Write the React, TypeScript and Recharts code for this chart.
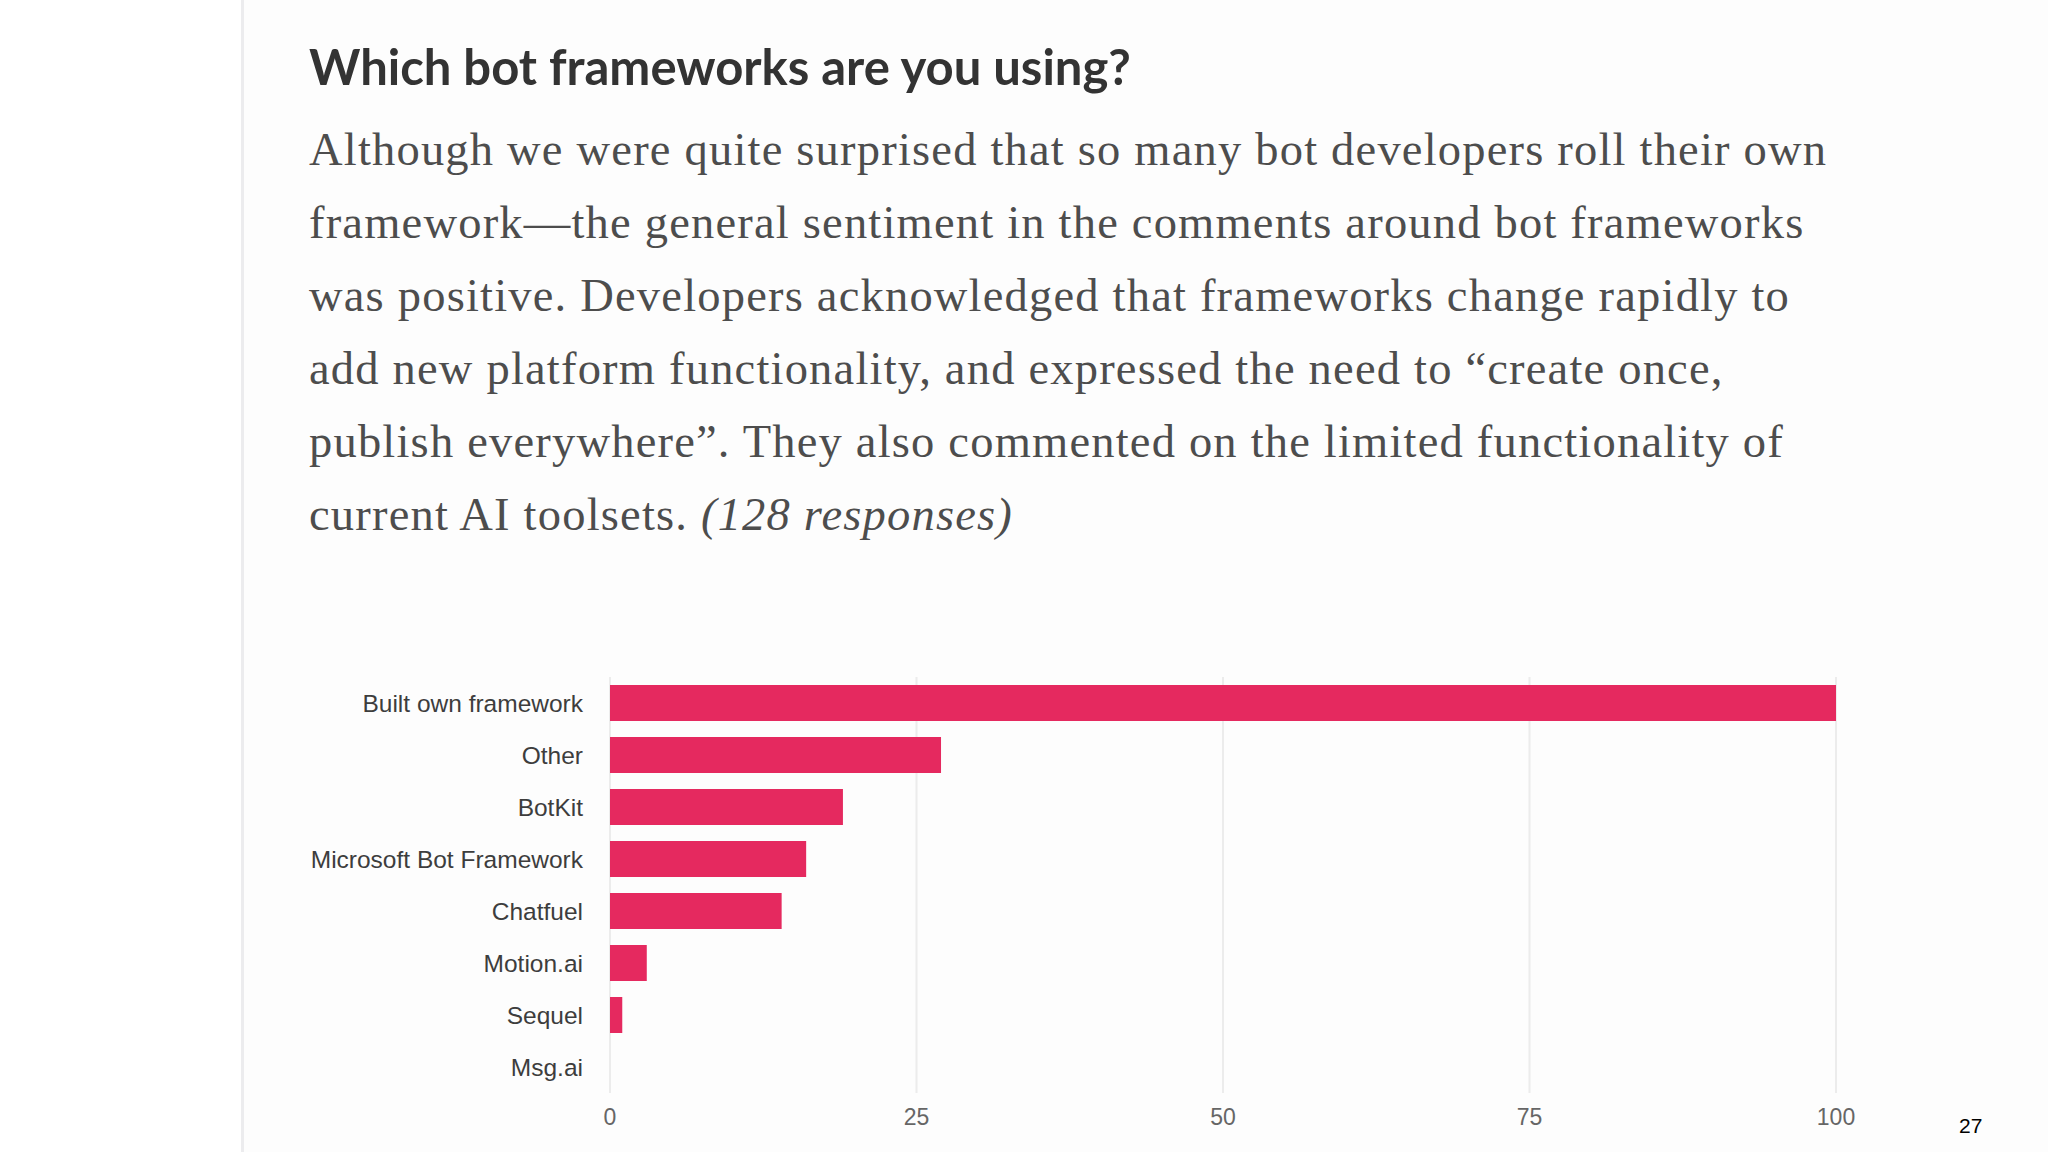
import React from "react";
import { BarChart, Bar, XAxis, YAxis, CartesianGrid } from "recharts";

const frameworks = [
  "Built own framework",
  "Other",
  "BotKit",
  "Microsoft Bot Framework",
  "Chatfuel",
  "Motion.ai",
  "Sequel",
  "Msg.ai",
];

const responses = [100, 27, 19, 16, 14, 3, 1, 0];

const xTicks = [0, 25, 50, 75, 100];

const BAR_COLOR = "#e5295f";

const paragraphLines = [
  "Although we were quite surprised that so many bot developers roll their own",
  "framework\u2014the general sentiment in the comments around bot frameworks",
  "was positive. Developers acknowledged that frameworks change rapidly to",
  "add new platform functionality, and expressed the need to \u201ccreate once,",
  "publish everywhere\u201d. They also commented on the limited functionality of",
];

export default function App() {
  const data = frameworks.map((name, i) => ({ name, count: responses[i] }));

  return (
    <div
      style={{
        position: "absolute",
        left: 0,
        top: 0,
        width: 2048,
        height: 1152,
        background: "#ffffff",
        overflow: "hidden",
      }}
    >
      {/* card edge on the left */}
      <div
        style={{
          position: "absolute",
          left: 241,
          top: -30,
          width: 1900,
          height: 1250,
          borderLeft: "3px solid #ececee",
          borderTop: "3px solid #ececee",
          borderTopLeftRadius: 28,
          background: "#fdfdfd",
        }}
      />

      <div
        style={{
          position: "absolute",
          left: 309,
          top: 42,
          fontFamily: "Lato, 'Open Sans', sans-serif",
          fontWeight: 700,
          fontSize: 49,
          lineHeight: "49px",
          color: "#333333",
          whiteSpace: "nowrap",
        }}
      >
        Which bot frameworks are you using?
      </div>

      <div
        style={{
          position: "absolute",
          left: 309,
          top: 113,
          fontFamily: "'Liberation Serif', 'DejaVu Serif', serif",
          fontSize: 46.5,
          lineHeight: "73px",
          letterSpacing: 1.2,
          color: "#4d4d4d",
          whiteSpace: "nowrap",
        }}
      >
        {paragraphLines.map((line) => (
          <div key={line}>{line}</div>
        ))}
        <div>
          current AI toolsets. <i>(128 responses)</i>
        </div>
      </div>

      <div style={{ position: "absolute", left: 0, top: 640 }}>
        <BarChart
          width={2048}
          height={512}
          data={data}
          layout="vertical"
          margin={{ top: 37, right: 212, left: 300, bottom: 19 }}
        >
          <CartesianGrid horizontal={false} stroke="#ececec" strokeWidth={2} />
          <XAxis
            type="number"
            domain={[0, 100]}
            ticks={xTicks}
            axisLine={false}
            tickLine={false}
            tickMargin={10}
            height={40}
            tick={{ fill: "#666666", fontSize: 23, fontFamily: "'Liberation Sans', Arial, sans-serif" }}
          />
          <YAxis
            type="category"
            dataKey="name"
            width={310}
            axisLine={false}
            tickLine={false}
            tickMargin={21}
            tick={{ fill: "#3d3d3d", fontSize: 24.5, fontFamily: "'Liberation Sans', Arial, sans-serif" }}
          />
          <Bar dataKey="count" fill={BAR_COLOR} barSize={36} isAnimationActive={false} />
        </BarChart>
      </div>

      <div
        style={{
          position: "absolute",
          left: 1959,
          top: 1115,
          fontFamily: "'Liberation Sans', Arial, sans-serif",
          fontSize: 21,
          lineHeight: "21px",
          color: "#000000",
        }}
      >
        27
      </div>
    </div>
  );
}
